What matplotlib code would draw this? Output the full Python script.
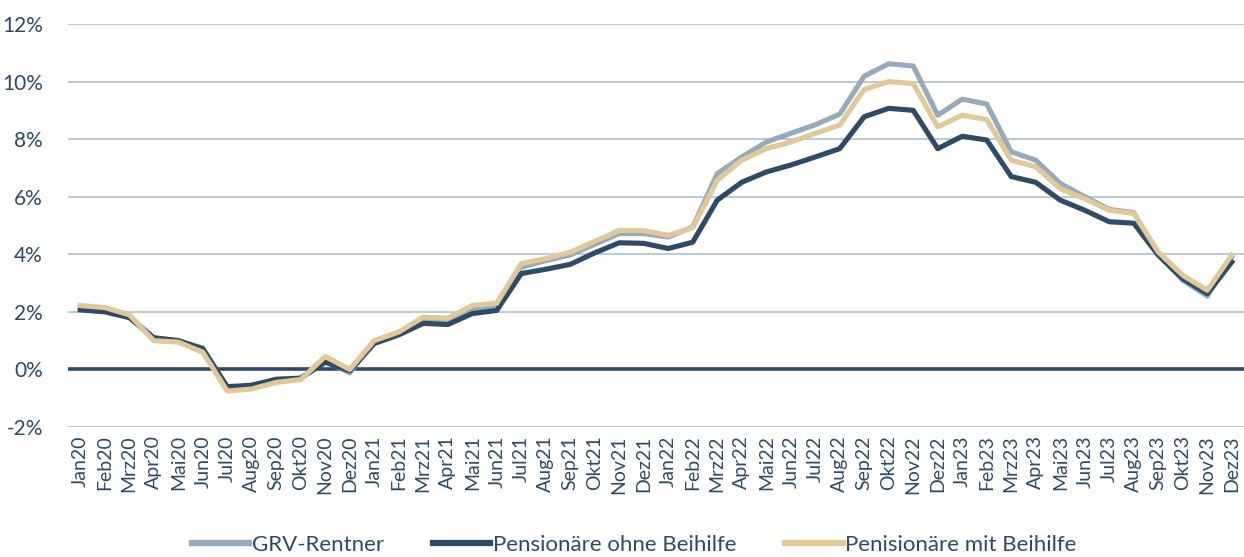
import matplotlib.pyplot as plt
import numpy as np

# === Data ===
months = [
    'Jan20', 'Feb20', 'Mrz20', 'Apr20', 'Mai20', 'Jun20', 'Jul20', 'Aug20', 'Sep20', 'Okt20', 'Nov20', 'Dez20',
    'Jan21', 'Feb21', 'Mrz21', 'Apr21', 'Mai21', 'Jun21', 'Jul21', 'Aug21', 'Sep21', 'Okt21', 'Nov21', 'Dez21',
    'Jan22', 'Feb22', 'Mrz22', 'Apr22', 'Mai22', 'Jun22', 'Jul22', 'Aug22', 'Sep22', 'Okt22', 'Nov22', 'Dez22',
    'Jan23', 'Feb23', 'Mrz23', 'Apr23', 'Mai23', 'Jun23', 'Jul23', 'Aug23', 'Sep23', 'Okt23', 'Nov23', 'Dez23',
]

grv_rentner = [
    2.15, 2.08, 1.85, 1.10, 1.00, 0.74, -0.65, -0.55, -0.33, -0.32, 0.30, -0.12,
    0.98, 1.25, 1.72, 1.68, 2.05, 2.18, 3.55, 3.78, 3.98, 4.35, 4.72, 4.72,
    4.60, 4.95, 6.80, 7.38, 7.90, 8.20, 8.50, 8.87, 10.19, 10.62, 10.54, 8.83,
    9.39, 9.22, 7.56, 7.27, 6.46, 6.00, 5.56, 5.45, 4.00, 3.10, 2.55, 3.90,
]

pens_ohne = [
    2.07, 2.00, 1.80, 1.10, 1.00, 0.72, -0.60, -0.55, -0.35, -0.30, 0.25, -0.05,
    0.90, 1.20, 1.60, 1.56, 1.94, 2.05, 3.33, 3.48, 3.65, 4.05, 4.40, 4.38,
    4.20, 4.42, 5.88, 6.50, 6.86, 7.10, 7.38, 7.67, 8.78, 9.07, 9.00, 7.67,
    8.10, 7.97, 6.70, 6.50, 5.88, 5.53, 5.13, 5.08, 3.97, 3.15, 2.63, 3.73,
]

pens_mit = [
    2.22, 2.15, 1.90, 1.00, 0.95, 0.60, -0.75, -0.68, -0.45, -0.35, 0.45, 0.00,
    1.00, 1.30, 1.82, 1.78, 2.22, 2.30, 3.68, 3.85, 4.07, 4.45, 4.83, 4.82,
    4.66, 4.92, 6.57, 7.27, 7.67, 7.90, 8.20, 8.49, 9.73, 10.00, 9.93, 8.43,
    8.83, 8.68, 7.27, 7.04, 6.28, 5.93, 5.53, 5.42, 4.08, 3.27, 2.75, 3.97,
]

# === Style ===
c_grv = '#97AABB'
c_ohne = '#2E4A66'
c_mit = '#E2C899'
c_grid = '#BCCBD9'
c_text = '#2E4A66'

plt.rcParams['font.family'] = ['Lato', 'DejaVu Sans']

fig = plt.figure(figsize=(12.44, 5.57), dpi=100)
ax = fig.add_axes([68 / 1244, 130 / 557, 1 - 68 / 1244, 403 / 557])

x = np.arange(len(months))
ax.plot(x, grv_rentner, color=c_grv, lw=3.7, label='GRV-Rentner', zorder=3)
ax.plot(x, pens_ohne, color=c_ohne, lw=3.7, label='Pensionäre ohne Beihilfe', zorder=4)
ax.plot(x, pens_mit, color=c_mit, lw=3.7, label='Penisionäre mit Beihilfe', zorder=5)

ax.axhline(0, color=c_ohne, lw=2.6, zorder=2)

ax.set_xlim(-0.5, len(months) - 0.5)
ax.set_ylim(-2, 12)
yticks = np.arange(-2, 13, 2)
ax.set_yticks(yticks)
ax.set_yticklabels([f'{v}%' for v in yticks])
ax.grid(axis='y', color=c_grid, lw=1.5, zorder=1)
ax.set_axisbelow(True)

ax.set_xticks(x)
ax.set_xticklabels(months, rotation=90)
ax.tick_params(axis='both', length=0, colors=c_text)
ax.tick_params(axis='y', pad=18, labelsize=15)
ax.tick_params(axis='x', pad=6, labelsize=14)
for s in ax.spines.values():
    s.set_visible(False)

leg = ax.legend(loc='center', bbox_to_anchor=(634 / 1244, 12 / 557), bbox_transform=fig.transFigure,
                ncol=3, frameon=False, fontsize=16, labelcolor=c_text,
                handlelength=2.6, handletextpad=0.1, columnspacing=2.2)
for h in leg.get_lines():
    h.set_linewidth(4.5)

fig.savefig('out.png', dpi=100)
